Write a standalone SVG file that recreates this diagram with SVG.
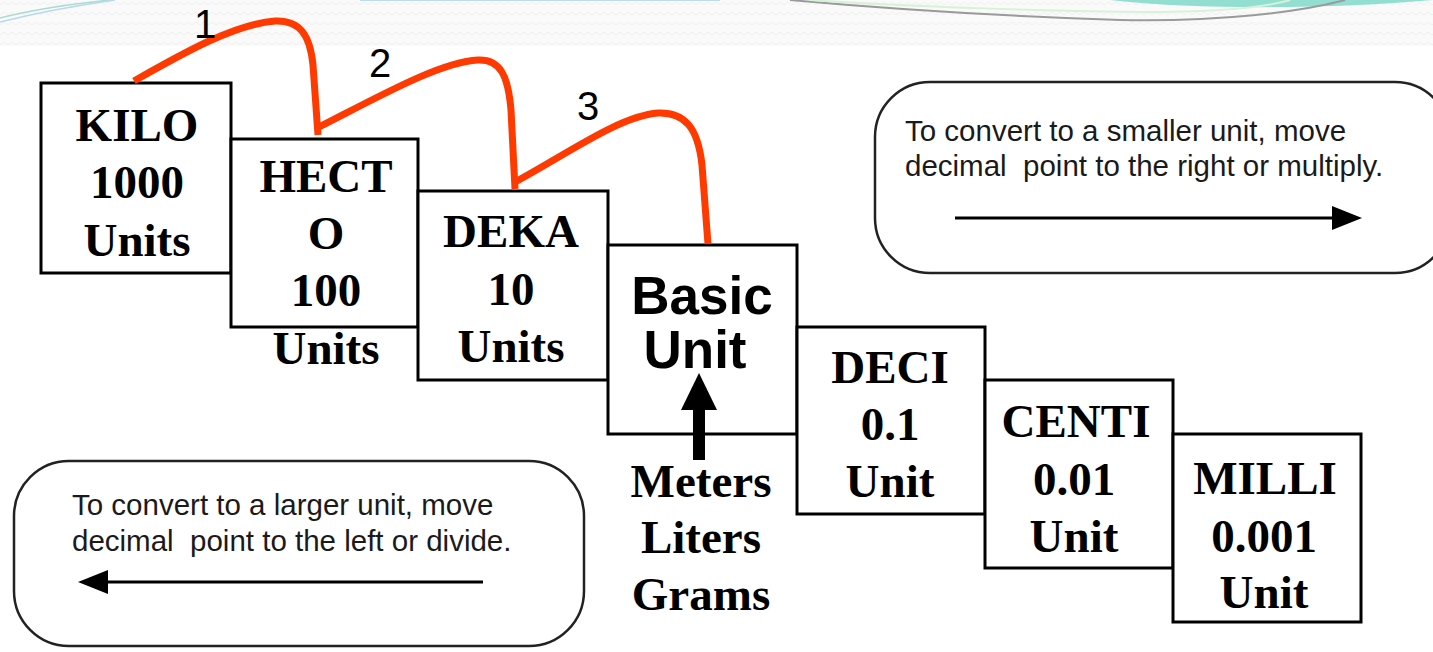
<svg xmlns="http://www.w3.org/2000/svg" width="1433" height="652" viewBox="0 0 1433 652">
<defs>
<style>
.box{fill:#fff;stroke:#000;stroke-width:3}
.lbl{font-family:"Liberation Serif","Times New Roman",serif;font-weight:bold;font-size:47px;text-anchor:middle;fill:#000}
.basic{font-family:"Liberation Sans",Arial,sans-serif;font-weight:bold;font-size:53px;text-anchor:middle;fill:#000}
.num{font-family:"Liberation Sans",Arial,sans-serif;font-size:40px;text-anchor:middle;fill:#000}
.note{font-family:"Liberation Sans",Arial,sans-serif;font-size:29.5px;fill:#1a1a1a}
.rnd{fill:#fff;stroke:#222;stroke-width:2.5}
.hop{fill:none;stroke:#ff3a00;stroke-width:7;stroke-linecap:butt}
.arr{stroke:#000;stroke-width:3}
</style>
<pattern id="zig" width="16" height="10" patternUnits="userSpaceOnUse">
<path d="M0,5 L4,2 L8,5 L12,2 L16,5" fill="none" stroke="#efefef" stroke-width="1"/>
</pattern>
</defs>
<rect width="1433" height="652" fill="#fff"/>
<g id="banner">
<rect x="0" y="0" width="1433" height="46" fill="#fafafa"/>
<rect x="0" y="0" width="1433" height="46" fill="url(#zig)"/>
<path d="M1110,0 C1200,10 1330,9 1433,0 Z" fill="#92dfd2"/>
<path d="M790,0 C900,10 1000,16 1120,20 C1220,22 1300,12 1345,0" fill="none" stroke="#9a9a9a" stroke-width="2"/>
<path d="M810,0 C900,6 1000,10 1140,12 C1230,12 1270,6 1290,0" fill="none" stroke="#d8f2d8" stroke-width="2"/>
<path d="M0,18 C40,8 80,3 110,0" fill="none" stroke="#a8dccf" stroke-width="1.5"/>
<path d="M0,22 C40,12 80,5 115,0" fill="none" stroke="#b8d8ef" stroke-width="1.5"/>
<path d="M360,0 L720,0" stroke="#bcdcef" stroke-width="2"/>
</g>
<g id="kilo"><rect class="box" x="41" y="83" width="190" height="190"/>
<text class="lbl" x="137" y="141">KILO</text><text class="lbl" x="137" y="198">1000</text><text class="lbl" x="137" y="256">Units</text></g>
<g id="hecto"><rect class="box" x="231" y="139" width="187" height="188"/>
<text class="lbl" x="326" y="192">HECT</text><text class="lbl" x="326" y="249">O</text><text class="lbl" x="326" y="306">100</text><text class="lbl" x="326" y="364">Units</text></g>
<g id="deka"><rect class="box" x="418" y="191" width="190" height="189"/>
<text class="lbl" x="511" y="247">DEKA</text><text class="lbl" x="511" y="305">10</text><text class="lbl" x="511" y="362">Units</text></g>
<g id="basic"><rect class="box" x="608" y="245" width="189" height="189"/>
<text class="basic" x="702" y="314">Basic</text><text class="basic" x="695" y="368">Unit</text></g>
<g id="deci"><rect class="box" x="797" y="327" width="188" height="187"/>
<text class="lbl" x="890" y="383">DECI</text><text class="lbl" x="890" y="440">0.1</text><text class="lbl" x="890" y="497">Unit</text></g>
<g id="centi"><rect class="box" x="985" y="380" width="188" height="188"/>
<text class="lbl" x="1076" y="437">CENTI</text><text class="lbl" x="1074" y="495">0.01</text><text class="lbl" x="1074" y="552">Unit</text></g>
<g id="milli"><rect class="box" x="1173" y="434" width="188" height="188"/>
<text class="lbl" x="1265" y="494">MILLI</text><text class="lbl" x="1264" y="552">0.001</text><text class="lbl" x="1264" y="608">Unit</text></g>
<g id="examples">
<text class="lbl" x="701" y="497">Meters</text><text class="lbl" x="701" y="553">Liters</text><text class="lbl" x="701" y="610">Grams</text></g>
<g id="note-smaller">
<rect class="rnd" x="875" y="82" width="575" height="191" rx="55" ry="55"/>
<text class="note" x="905" y="141">To convert to a smaller unit, move</text>
<text class="note" x="905" y="176" xml:space="preserve">decimal  point to the right or multiply.</text>
</g>
<g id="note-larger">
<rect class="rnd" x="14" y="461" width="570" height="185" rx="55" ry="55"/>
<text class="note" x="72" y="515">To convert to a larger unit, move</text>
<text class="note" x="72" y="551" xml:space="preserve">decimal  point to the left or divide.</text>
</g>
<g id="connectors">
<path class="hop" d="M134,81 C185,52 235,24 275,21 C300,20 310,35 313,65 L318,135"/>
<path class="hop" d="M319,127 C380,96 440,62 478,60 C500,59 508,75 511,110 L515,189"/>
<path class="hop" d="M515,182 C570,152 620,116 658,113 C685,112 698,128 702,165 L708,244"/>
<line class="arr" x1="955" y1="218" x2="1332" y2="218"/>
<polygon points="1332,206 1362,218 1332,230"/>
<line class="arr" x1="483" y1="582" x2="108" y2="582"/>
<polygon points="108,570 78,582 108,594"/>
<rect x="693" y="408" width="12" height="52"/>
<polygon points="681,410 699,373 717,410"/>
</g>
<g id="steps">
<text class="num" x="205" y="38">1</text>
<text class="num" x="380" y="77">2</text>
<text class="num" x="588" y="120">3</text>
</g>
</svg>
